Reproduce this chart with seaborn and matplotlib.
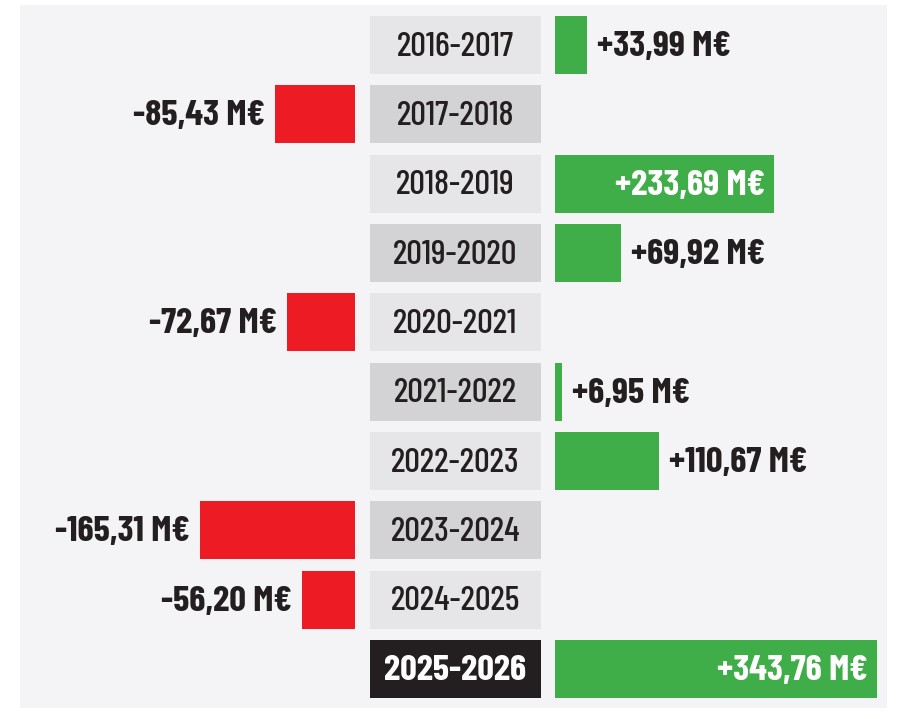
import matplotlib

matplotlib.use("Agg")
import matplotlib.pyplot as plt
import pandas as pd
import seaborn as sns
from matplotlib.patches import Rectangle

# season-by-season net result (M€)
seasons = [
    "2016-2017", "2017-2018", "2018-2019", "2019-2020", "2020-2021",
    "2021-2022", "2022-2023", "2023-2024", "2024-2025", "2025-2026",
]
values = [33.99, -85.43, 233.69, 69.92, -72.67, 6.95, 110.67, -165.31, -56.20, 343.76]
value_labels = [
    "+33,99 M€", "-85,43 M€", "+233,69 M€", "+69,92 M€", "-72,67 M€",
    "+6,95 M€", "+110,67 M€", "-165,31 M€", "-56,20 M€", "+343,76 M€",
]
inside_labels = ["2018-2019", "2025-2026"]
highlight = "2025-2026"

GREEN = "#3fae49"
RED = "#ed1c24"
PANEL = "#f4f4f6"
BOX_LIGHT = "#e6e6e8"
BOX_DARK = "#d3d3d5"
BOX_BLACK = "#231f20"
TEXT = "#231f20"

W, H = 911, 719
PX_PER_M = 0.937  # pixels per million euros
FS = 26.5
FS_YEAR = 25

df = pd.DataFrame({"season": seasons, "value": values, "label": value_labels})
df["pos"] = df["value"].clip(lower=0)
df["neg"] = df["value"].clip(upper=0)

sns.set_theme(style="white")
plt.rcParams["font.family"] = ["Barlow Condensed", "Roboto Condensed", "DejaVu Sans"]

fig = plt.figure(figsize=(W / 100, H / 100), dpi=100)
fig.patch.set_facecolor("white")
fig.patches.append(
    Rectangle((20 / W, 1 - 708 / H), 867 / W, 703 / H, transform=fig.transFigure,
              facecolor=PANEL, edgecolor="none", zorder=-10)
)

# vertical extent shared by the three axes: row 0 centred at y=45, row 9 at y=669
row_h = (669 - 45) / 9
top_px = 45 - row_h / 2
bot_px = 669 + row_h / 2
ax_b = 1 - bot_px / H
ax_h = (bot_px - top_px) / H
bar_w = 58 / row_h


def make_ax(x0, x1):
    ax = fig.add_axes([x0 / W, ax_b, (x1 - x0) / W, ax_h])
    ax.set_facecolor("none")
    for s in ax.spines.values():
        s.set_visible(False)
    return ax


# negative side: bars end at x=355
ax_neg = make_ax(20, 355)
sns.barplot(data=df, x="neg", y="season", color=RED, width=bar_w, ax=ax_neg,
            saturation=1, edgecolor="none", linewidth=0, orient="h")
ax_neg.set_xlim(-(355 - 20) / PX_PER_M, 0)

# season boxes
ax_box = make_ax(370, 541)
box_colors = [BOX_BLACK if s == highlight else (BOX_LIGHT if i % 2 == 0 else BOX_DARK)
              for i, s in enumerate(seasons)]
sns.barplot(data=df.assign(one=1.0), x="one", y="season", hue="season",
            palette=box_colors, width=bar_w, ax=ax_box, saturation=1,
            edgecolor="none", linewidth=0, legend=False, orient="h")
ax_box.set_xlim(0, 1)
for i, s in enumerate(seasons):
    hl = s == highlight
    ax_box.text(0.5, i + 0.03, s, ha="center", va="center",
                fontsize=FS if hl else FS_YEAR,
                color="white" if hl else TEXT, fontweight="bold" if hl else "medium")

# positive side: bars start at x=555
ax_pos = make_ax(555, 887)
sns.barplot(data=df, x="pos", y="season", color=GREEN, width=bar_w, ax=ax_pos,
            saturation=1, edgecolor="none", linewidth=0, orient="h")
ax_pos.set_xlim(0, (887 - 555) / PX_PER_M)

for ax in (ax_neg, ax_box, ax_pos):
    ax.set_ylim(len(seasons) - 0.5, -0.5)
    ax.set_xticks([])
    ax.set_yticks([])
    ax.set_xlabel("")
    ax.set_ylabel("")

pad = 10 / PX_PER_M
for i, row in df.iterrows():
    v = row["value"]
    if v >= 0:
        if row["season"] in inside_labels:
            ax_pos.text(v - 9 / PX_PER_M, i + 0.03, row["label"], ha="right", va="center",
                        fontsize=FS, fontweight="bold", color="white")
        else:
            ax_pos.text(v + pad, i + 0.03, row["label"], ha="left", va="center",
                        fontsize=FS, fontweight="bold", color=TEXT)
    else:
        ax_neg.text(v - pad, i + 0.03, row["label"], ha="right", va="center",
                    fontsize=FS, fontweight="bold", color=TEXT)

fig.savefig("out.png", dpi=100, facecolor="white")
